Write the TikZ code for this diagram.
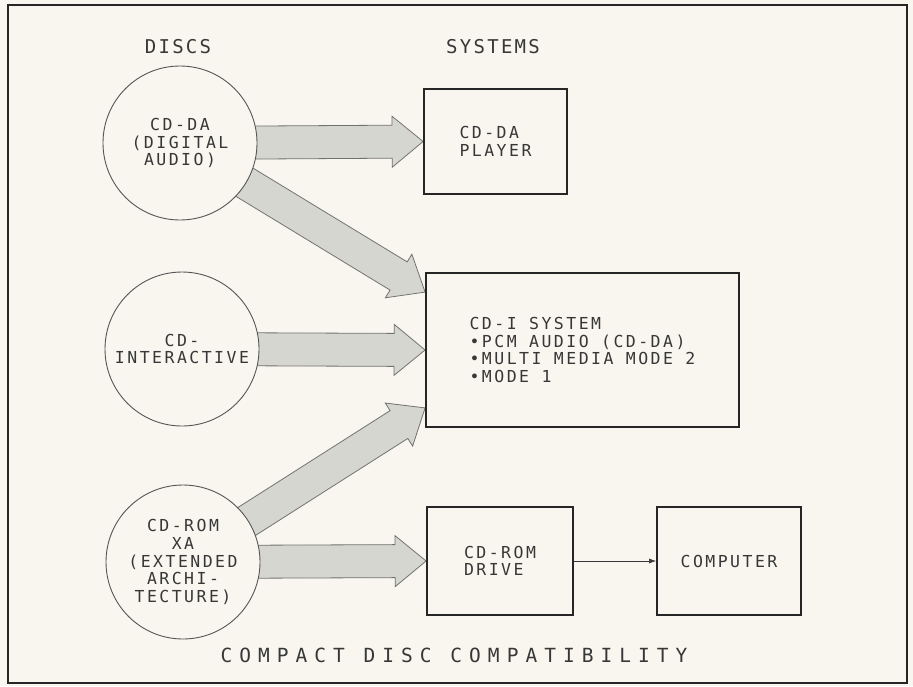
\documentclass[tikz,border=0pt]{standalone}
\usepackage{fontspec}
\usetikzlibrary{calc,arrows.meta,backgrounds}
\newfontfamily\lettfont[LetterSpace=15]{DejaVu Sans Mono}
\newfontfamily\headfont[LetterSpace=12]{DejaVu Sans Mono}
\newfontfamily\titlefont[LetterSpace=36]{DejaVu Sans Mono}
\definecolor{paper}{RGB}{248,246,238}
\definecolor{ink}{RGB}{55,55,55}
\definecolor{arrowfill}{RGB}{214,214,208}
\definecolor{arrowline}{RGB}{115,115,110}
\tikzset{
  fatarr/.style={fill=arrowfill, draw=arrowline, line width=0.8pt, line join=miter},
  disc/.style={circle, draw=ink!85, line width=0.9pt, fill=paper, minimum size=154pt, inner sep=0pt, align=center, text=ink, font=\lettfont\fontsize{16.5}{17.8}\selectfont},
  sysbox/.style={rectangle, draw=black!85, line width=1.8pt, fill=paper, align=left, text=ink, font=\lettfont\fontsize{16.5}{17.5}\selectfont},
  header/.style={text=ink, font=\headfont\fontsize{19}{22}\selectfont},
  titletext/.style={text=ink, font=\titlefont\fontsize{19.5}{22}\selectfont},
  link/.style={draw=ink, line width=0.6pt, -{Latex[length=7pt,width=5pt]}}
}
\newcommand{\fatarrow}[2]{%
  \coordinate (fa-hb) at ($(#2)!31pt!(#1)$);
  \draw[fatarr] ($(#1)!16.5pt!90:(#2)$) -- ($(fa-hb)!16.5pt!90:(#2)$) -- ($(fa-hb)!25.5pt!90:(#2)$) -- (#2) -- ($(fa-hb)!25.5pt!-90:(#2)$) -- ($(fa-hb)!16.5pt!-90:(#2)$) -- ($(#1)!16.5pt!-90:(#2)$) -- cycle;}
\begin{document}
\begin{tikzpicture}[x=1pt,y=-1pt]
\useasboundingbox (0,0) rectangle (913,686);
% discs
\node[disc] (c1) at (180,143) {CD-DA\\(DIGITAL\\AUDIO)};
\node[disc] (c2) at (182,349) {CD-\\INTERACTIVE};
\node[disc] (c3) at (183,562) {CD-ROM\\XA\\(EXTENDED\\ARCHI-\\TECTURE)};
% systems
\node[sysbox, minimum width=143pt, minimum height=105pt] (b1) at (495.5,141.5) {CD-DA\\PLAYER};
\node[sysbox, minimum width=313pt, minimum height=154pt] (b2) at (582.5,350) {CD-I SYSTEM\\•PCM AUDIO (CD-DA)\\•MULTI MEDIA MODE 2\\•MODE 1};
\node[sysbox, minimum width=146pt, minimum height=108pt] (b3) at (500,561) {CD-ROM\\DRIVE};
\node[sysbox, minimum width=144pt, minimum height=108pt] (b4) at (729,561) {COMPUTER};
% headers
\node[header] (hd) at (178,47) {DISCS};
\node[header] (hs) at (493,47) {SYSTEMS};
\node[titletext] (tt) at (454,655) {COMPACT DISC COMPATIBILITY};
% thin link
\draw[link] (b3.east) -- (b4.west);
% frame
\draw[black!85, line width=1.8pt] (8,5) rectangle (907,683);
\begin{scope}[on background layer]
  \fill[paper] (0,0) rectangle (913,686);
  \coordinate (t2) at ($(b2.north west)+(0,20)$);
  \coordinate (t4) at ($(b2.south west)+(0,-20)$);
  \coordinate (s1) at ($(c1.center)!68pt!(b1.west)$);
  \coordinate (s2) at ($(c1.center)!68pt!(t2)$);
  \coordinate (s3) at ($(c2.center)!68pt!(b2.west)$);
  \coordinate (s4) at ($(c3.center)!68pt!(t4)$);
  \coordinate (s5) at ($(c3.center)!68pt!(b3.west)$);
  \fatarrow{s1}{b1.west}
  \fatarrow{s2}{t2}
  \fatarrow{s3}{b2.west}
  \fatarrow{s4}{t4}
  \fatarrow{s5}{b3.west}
\end{scope}
\end{tikzpicture}
\end{document}
